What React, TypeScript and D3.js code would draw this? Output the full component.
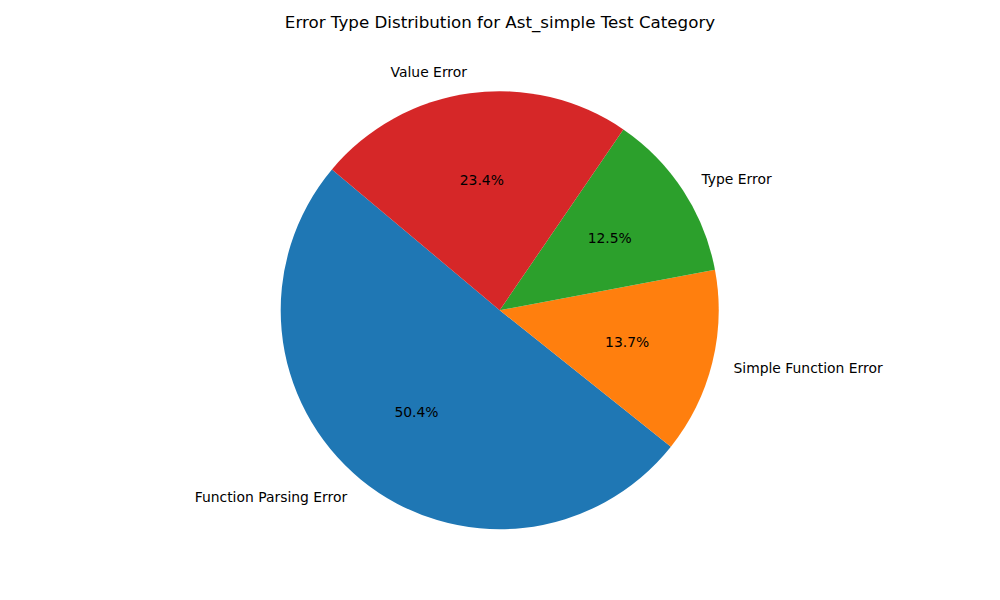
import React from 'react';
import * as d3 from 'd3';

const labels = ['Function Parsing Error', 'Simple Function Error', 'Type Error', 'Value Error'];
const counts = [129, 35, 32, 60];
const colors = ['#1f77b4', '#ff7f0e', '#2ca02c', '#d62728'];

const width = 1000;
const height = 600;
const cx = 499.7;
const cy = 310.2;
const radius = 219;
// matplotlib startangle=140, counterclockwise
const startDeg = 140;

const App = () => {
  const total = d3.sum(counts);
  const a0 = ((90 - startDeg) * Math.PI) / 180;
  const pie = d3
    .pie<number>()
    .sort(null)
    .startAngle(a0)
    .endAngle(a0 - 2 * Math.PI);
  const arcs = pie(counts);
  const arc = d3.arc<d3.PieArcDatum<number>>().innerRadius(0).outerRadius(radius);

  const pos = (d: d3.PieArcDatum<number>, f: number) => {
    const a = (d.startAngle + d.endAngle) / 2;
    return [Math.sin(a) * radius * f, -Math.cos(a) * radius * f];
  };

  return (
    <svg
      width={width}
      height={height}
      style={{ display: 'block', position: 'absolute', left: 0, top: 0, fontFamily: 'DejaVu Sans' }}
    >
      <rect width={width} height={height} fill="#ffffff" />
      <text x={500} y={28} textAnchor="middle" fontSize={16.7} fill="#000">
        Error Type Distribution for Ast_simple Test Category
      </text>
      <g transform={`translate(${cx},${cy})`}>
        {arcs.map((d, i) => (
          <path key={labels[i]} d={arc(d) || ''} fill={colors[i]} />
        ))}
        {arcs.map((d, i) => {
          const [x, y] = pos(d, 1.1);
          return (
            <text
              key={`l${i}`}
              x={x}
              y={y}
              textAnchor={x > 0 ? 'start' : 'end'}
              dominantBaseline="central"
              fontSize={13.9}
              fill="#000"
            >
              {labels[i]}
            </text>
          );
        })}
        {arcs.map((d, i) => {
          const [x, y] = pos(d, 0.6);
          return (
            <text
              key={`p${i}`}
              x={x}
              y={y}
              textAnchor="middle"
              dominantBaseline="central"
              fontSize={13.9}
              fill="#000"
            >
              {((counts[i] / total) * 100).toFixed(1)}%
            </text>
          );
        })}
      </g>
    </svg>
  );
};

export default App;
